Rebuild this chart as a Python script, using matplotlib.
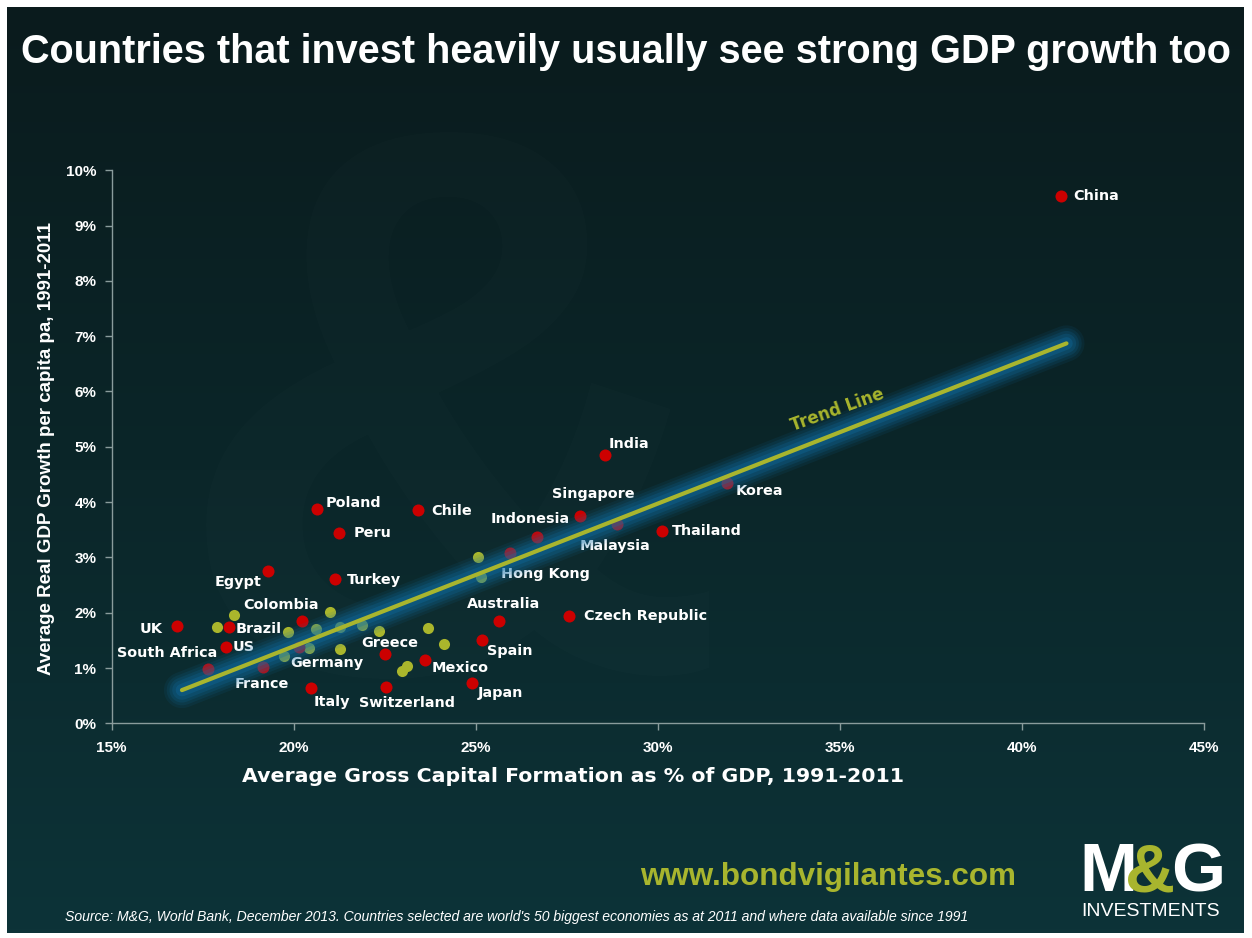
import numpy as np
import matplotlib.pyplot as plt
from matplotlib.colors import LinearSegmentedColormap

# labelled countries (red dots): investment % of GDP vs real GDP growth per capita %
countries = ['China', 'India', 'Korea', 'Thailand', 'Singapore', 'Malaysia', 'Indonesia',
             'Hong Kong', 'Chile', 'Poland', 'Peru', 'Egypt', 'Turkey', 'Colombia', 'UK',
             'Brazil', 'US', 'South Africa', 'France', 'Germany', 'Italy', 'Switzerland',
             'Greece', 'Mexico', 'Japan', 'Spain', 'Australia', 'Czech Republic']
invest = [41.08, 28.55, 31.90, 30.12, 27.87, 28.88, 26.68, 25.94, 23.41, 20.64, 21.24, 19.29,
          21.13, 20.23, 16.79, 18.22, 18.14, 17.65, 19.16, 20.15, 20.48, 22.54, 22.51, 23.61,
          24.90, 25.17, 25.64, 27.56]
growth = [9.54, 4.85, 4.34, 3.48, 3.75, 3.60, 3.37, 3.08, 3.85, 3.88, 3.44, 2.75, 2.61, 1.85,
          1.76, 1.74, 1.38, 0.98, 1.02, 1.38, 0.64, 0.66, 1.25, 1.14, 0.73, 1.51, 1.85, 1.94]

# other economies shown without a label
other_invest = [18.37, 17.90, 19.83, 20.62, 21.00, 21.27, 21.88, 22.34, 23.70, 24.13, 21.27,
                20.41, 19.72, 23.10, 22.98, 25.07, 25.14]
other_growth = [1.95, 1.75, 1.65, 1.70, 2.01, 1.74, 1.77, 1.67, 1.72, 1.43, 1.34, 1.37, 1.21,
                1.03, 0.94, 3.00, 2.65]

# trend line end points as drawn
trend_x = [16.93, 41.23]
trend_y = [0.60, 6.87]

x_ticks = [15, 20, 25, 30, 35, 40, 45]
y_ticks = list(range(0, 11))

# label placement: offset in pixels from the dot and alignment
label_pos = {
    'China': (12, 0, 'left'), 'India': (4, 11, 'left'), 'Korea': (9, -8, 'left'),
    'Thailand': (10, 0, 'left'), 'Singapore': (13, 22, 'center'), 'Malaysia': (-2, -22, 'center'),
    'Indonesia': (-7, 18, 'center'), 'Hong Kong': (36, -21, 'center'), 'Chile': (13, -1, 'left'),
    'Poland': (9, 6, 'left'), 'Peru': (15, 0, 'left'), 'Egypt': (-6, -11, 'right'),
    'Turkey': (12, -1, 'left'), 'Colombia': (-21, 16, 'center'), 'UK': (-14, -3, 'right'),
    'Brazil': (7, -2, 'left'), 'US': (7, 0, 'left'), 'South Africa': (9, 16, 'right'),
    'France': (-1, -17, 'center'), 'Germany': (-9, -16, 'left'), 'Italy': (2, -14, 'left'),
    'Switzerland': (21, -16, 'center'), 'Greece': (5, 11, 'center'), 'Mexico': (7, -8, 'left'),
    'Japan': (6, -10, 'left'), 'Spain': (5, -11, 'left'), 'Australia': (5, 17, 'center'),
    'Czech Republic': (15, 0, 'left'),
}

W, H = 1252, 938
fig = plt.figure(figsize=(W / 100, H / 100), dpi=100, facecolor='white')


def fit_width(txt, target_px):
    # shrink/grow a text so it spans the same width as in the original
    r = fig.canvas.get_renderer()
    w = txt.get_window_extent(r).width
    txt.set_fontsize(txt.get_fontsize() * target_px / w)


# dark teal background panel with a soft vertical gradient
bg = fig.add_axes([7 / W, 5 / H, 1237 / W, 926 / H], zorder=-5)
grad = np.linspace(0, 1, 256).reshape(-1, 1)
cmap = LinearSegmentedColormap.from_list('bg', ['#0d3338', '#0b2629', '#0a1b1d'])
bg.imshow(grad, aspect='auto', cmap=cmap, extent=[0, 1, 0, 1], origin='lower')
bg.text(0.36, 0.50, '&', fontsize=560, color='white', alpha=0.012, ha='center', va='center',
        family='Liberation Sans', fontweight='bold')
bg.set_xlim(0, 1)
bg.set_ylim(0, 1)
bg.axis('off')

ax = fig.add_axes([111.7 / W, 1 - 723.3 / H, 1092 / W, 553 / H])
ax.set_facecolor('none')

lab_font = dict(family='DejaVu Sans', fontweight='bold', color='white')

ax.scatter(other_invest, other_growth, s=64, color='#aab62c', zorder=3, linewidths=0)
ax.scatter(invest, growth, s=75, color='#cc0000', zorder=3, linewidths=0)
for name, xv, yv in zip(countries, invest, growth):
    dx, dy, ha = label_pos[name]
    ax.annotate(name, (xv, yv), xytext=(dx, dy), textcoords='offset pixels',
                ha=ha, va='center', fontsize=10.4, zorder=4, **lab_font)

# blue glow around the trend line, drawn over points so it tints them
for lw, a in [(26, 0.10), (22, 0.13), (18, 0.17), (14, 0.22), (9, 0.3)]:
    ax.plot(trend_x, trend_y, color='#1070a8', lw=lw, alpha=a, solid_capstyle='round', zorder=5)
ax.plot(trend_x, trend_y, color='#a8b52e', lw=3, solid_capstyle='round', zorder=6)

# angle of the trend line in screen space for its label
fig.canvas.draw()
p0 = ax.transData.transform((trend_x[0], trend_y[0]))
p1 = ax.transData.transform((trend_x[1], trend_y[1]))
ang = np.degrees(np.arctan2(p1[1] - p0[1], p1[0] - p0[0]))
tx = trend_x[0] + 0.75 * (trend_x[1] - trend_x[0])
ty = trend_y[0] + 0.75 * (trend_y[1] - trend_y[0])
ax.annotate('Trend Line', (tx, ty), xytext=(-8, 20), textcoords='offset pixels', rotation=ang,
            rotation_mode='anchor', ha='center', va='center', fontsize=12, color='#a8b52e',
            family='DejaVu Sans', fontweight='bold', zorder=7)

ax.set_xlim(15, 45)
ax.set_ylim(0, 10)
ax.set_xticks(x_ticks)
ax.set_yticks(y_ticks)
ax.set_xticklabels([f'{v}%' for v in x_ticks])
ax.set_yticklabels([f'{v}%' for v in y_ticks])
for s in ['top', 'right']:
    ax.spines[s].set_visible(False)
for s in ['left', 'bottom']:
    ax.spines[s].set_color('#8a9c9c')
    ax.spines[s].set_linewidth(1)
ax.tick_params(colors='#8a9c9c', length=5, width=1, direction='out')
for t in ax.get_xticklabels() + ax.get_yticklabels():
    t.set_color('white')
    t.set_fontfamily('Liberation Sans')
    t.set_fontweight('bold')
    t.set_fontsize(11)
ax.tick_params(axis='x', pad=8)
ax.tick_params(axis='y', pad=6)

xl = fig.text(573 / W, 1 - 776 / H, 'Average Gross Capital Formation as % of GDP, 1991-2011',
              ha='center', va='center', fontsize=14, **lab_font)
yl = fig.text(47 / W, 1 - 448 / H, 'Average Real GDP Growth per capita pa, 1991-2011',
              ha='center', va='center', rotation=90, fontsize=13.5,
              family='Liberation Sans', fontweight='bold', color='white')

title = fig.text(626 / W, 1 - 52 / H,
                 'Countries that invest heavily usually see strong GDP growth too',
                 ha='center', va='center', fontsize=30, color='white',
                 family='Liberation Sans', fontweight='bold')

site = fig.text(828 / W, 1 - 877 / H, 'www.bondvigilantes.com', ha='center', va='center',
                fontsize=22, color='#a8b52e', family='Liberation Sans', fontweight='bold')
src = fig.text(65 / W, 1 - 917 / H,
               "Source: M&G, World Bank, December 2013. Countries selected are world's 50 biggest "
               "economies as at 2011 and where data available since 1991",
               ha='left', va='center', fontsize=10, color='white', style='italic',
               family='Liberation Sans')

# M&G logo
logo = dict(fontsize=50, fontweight='bold', va='center', family='Liberation Sans')
fig.text(1079 / W, 1 - 873 / H, 'M', ha='left', color='white', **logo)
fig.text(1225 / W, 1 - 873 / H, 'G', ha='right', color='white', **logo)
fig.text(1150 / W, 1 - 873 / H, '&', ha='center', color='#a8b52e', **logo)
inv = fig.text(1151 / W, 1 - 911 / H, 'INVESTMENTS', ha='center', va='center', fontsize=13,
               color='white', family='Liberation Sans')

fit_width(title, 1212)
fit_width(xl, 663)
fit_width(site, 375)
fit_width(src, 910)
fit_width(inv, 138)

fig.savefig('out.png', dpi=100, facecolor='white')
